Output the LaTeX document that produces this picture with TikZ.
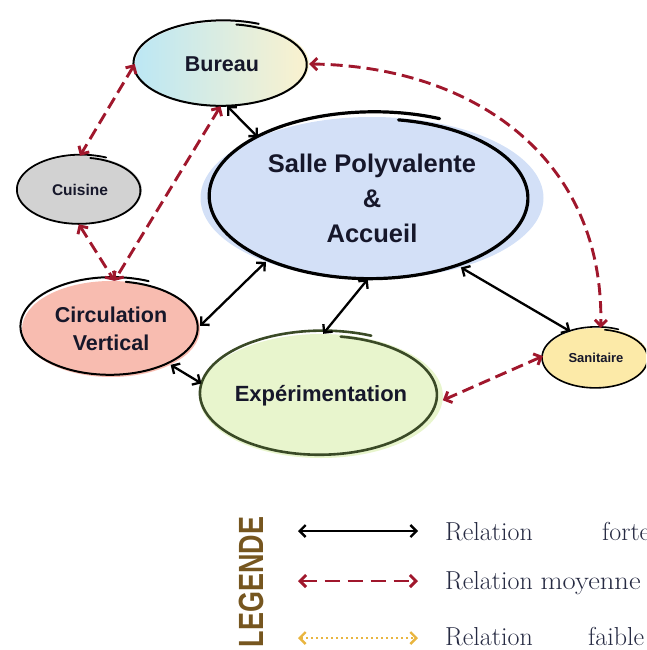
\documentclass[tikz,border=0pt]{standalone}
\usepackage{fontspec}
\newfontfamily\nodefont{Liberation Sans}
\usetikzlibrary{shapes.geometric,arrows.meta}

\definecolor{relred}{HTML}{A0172C}
\definecolor{relyellow}{HTML}{E9B53F}
\definecolor{inktext}{HTML}{16172A}
\definecolor{legtext}{HTML}{262A42}
\definecolor{legbrown}{HTML}{76561F}
\definecolor{bureauA}{HTML}{BCE7F4}
\definecolor{bureauB}{HTML}{FBF2CE}
\definecolor{cuisinefill}{HTML}{D2D2D2}
\definecolor{salleblob}{HTML}{D3E0F7}
\definecolor{circfill}{HTML}{F8BCB0}
\definecolor{expfill}{HTML}{E8F5CD}
\definecolor{expline}{HTML}{3A4A26}
\definecolor{sanfill}{HTML}{FCEAA8}

% hand-drawn ellipse outline: cx, cy, rx, ry, draw options
\newcommand\sketchring[5]{%
  \draw[#5] plot[smooth,samples=110,domain=0:1,variable=\u]
    ({#1+#3*(0.955+0.09*\u)*cos(80-374*\u)},{#2-#4*(0.955+0.09*\u)*sin(80-374*\u)});}

\begin{document}
\begin{tikzpicture}[x=1pt,y=-1pt,
  room/.style={ellipse,inner sep=0pt,draw=none,text=inktext,align=center,
    font=\nodefont\bfseries},
  sketch/.style={black,line width=2pt,line cap=round},
  tipbarb/.tip={Straight Barb[length=6pt,width=12pt]},
  relforte/.style={black,line width=2.3pt,{tipbarb}-{tipbarb}},
  relmoy/.style={relred,line width=2.9pt,dash pattern=on 12pt off 6pt,{tipbarb}-{tipbarb}},
  relfaible/.style={relyellow,line width=2.4pt,dash pattern=on 2pt off 3pt,{tipbarb}-{tipbarb}},
  legendlabel/.style={anchor=base west,inner sep=0pt,text=legtext,
    font=\fontsize{26}{30}\selectfont}]
\useasboundingbox (0,0) rectangle (646,650);
\clip (0,0) rectangle (646,650);

% ---- rooms ----
\node[room,minimum width=343pt,minimum height=162pt,fill=salleblob,
  font=\nodefont\bfseries\fontsize{25.5}{35}\selectfont] (sal) at (372,198)
  {Salle Polyvalente\\\&\\Accueil};
\sketchring{372}{197}{160}{82}{sketch,line width=3.2pt}

\node[room,minimum width=174pt,minimum height=84pt,left color=bureauA,right color=bureauB,
  font=\nodefont\bfseries\fontsize{21.5}{26}\selectfont] (bur) at (222,64) {Bureau};
\sketchring{222}{64}{87}{42}{sketch}

\node[room,minimum width=124pt,minimum height=68pt,fill=cuisinefill,
  font=\nodefont\bfseries\fontsize{15.5}{19}\selectfont] (cui) at (80,190) {Cuisine};
\sketchring{80}{190}{62}{34}{sketch,line width=1.8pt}

\node[room,minimum width=178pt,minimum height=96pt,fill=circfill,
  font=\nodefont\bfseries\fontsize{21.5}{28}\selectfont] (cir) at (111,329)
  {Circulation\\Vertical};
\sketchring{111}{327}{89}{48}{sketch}

\node[room,minimum width=242pt,minimum height=124pt,fill=expfill,
  font=\nodefont\bfseries\fontsize{22}{26}\selectfont] (exp) at (321,396) {Expérimentation};
\sketchring{321}{394}{119}{61}{sketch,draw=expline,line width=2.6pt}

\node[room,minimum width=106pt,minimum height=60pt,fill=sanfill,
  font=\nodefont\bfseries\fontsize{13}{16}\selectfont] (san) at (596,358) {Sanitaire};
\sketchring{596}{358}{53}{30}{sketch,line width=1.6pt}

% ---- strong relations ----
\draw[relforte] (bur.277) -- (sal.152);
\draw[relforte] (sal.211) -- (cir.2);
\draw[relforte] (sal.267) -- (exp.88);
\draw[relforte] (sal.322) -- (san.134);
\draw[relforte] (cir.329) -- (exp.174);

% ---- medium relations ----
\draw[relmoy] (bur.180) -- (cui.90);
\draw[relmoy] (cui.268) -- (cir.86);
\draw[relmoy] (bur.268) -- (cir.86);
\draw[relmoy] (bur.0) .. controls (470,66) and (604,155) .. (san.81);
\draw[relmoy] (exp.358) -- (san.178);

% ---- legend ----
\node[rotate=90,text=legbrown,inner sep=0pt,
  font=\nodefont\bfseries\fontsize{35}{40}\selectfont] (leg) at (251,582)
  {\scalebox{0.77}[1]{LEGENDE}};

\coordinate (fa) at (298,531); \coordinate (fb) at (418,531);
\coordinate (ma) at (298,581); \coordinate (mb) at (418,581);
\coordinate (wa) at (298,638); \coordinate (wb) at (418,638);
\draw[relforte] (fa) -- (fb);
\draw[relmoy,dash pattern=on 15pt off 8pt] (ma) -- (mb);
\draw[relfaible] (wa) -- (wb);

\node[legendlabel] (lf1) at (445,540) {Relation};
\node[legendlabel] (lf2) at (602,540) {forte};
\node[legendlabel] (lm1) at (445,589) {Relation \scalebox{1.1}[1]{moyenne}};
\node[legendlabel] (lw1) at (445,645) {Relation};
\node[legendlabel] (lw2) at (588,645) {faible};
\end{tikzpicture}
\end{document}
